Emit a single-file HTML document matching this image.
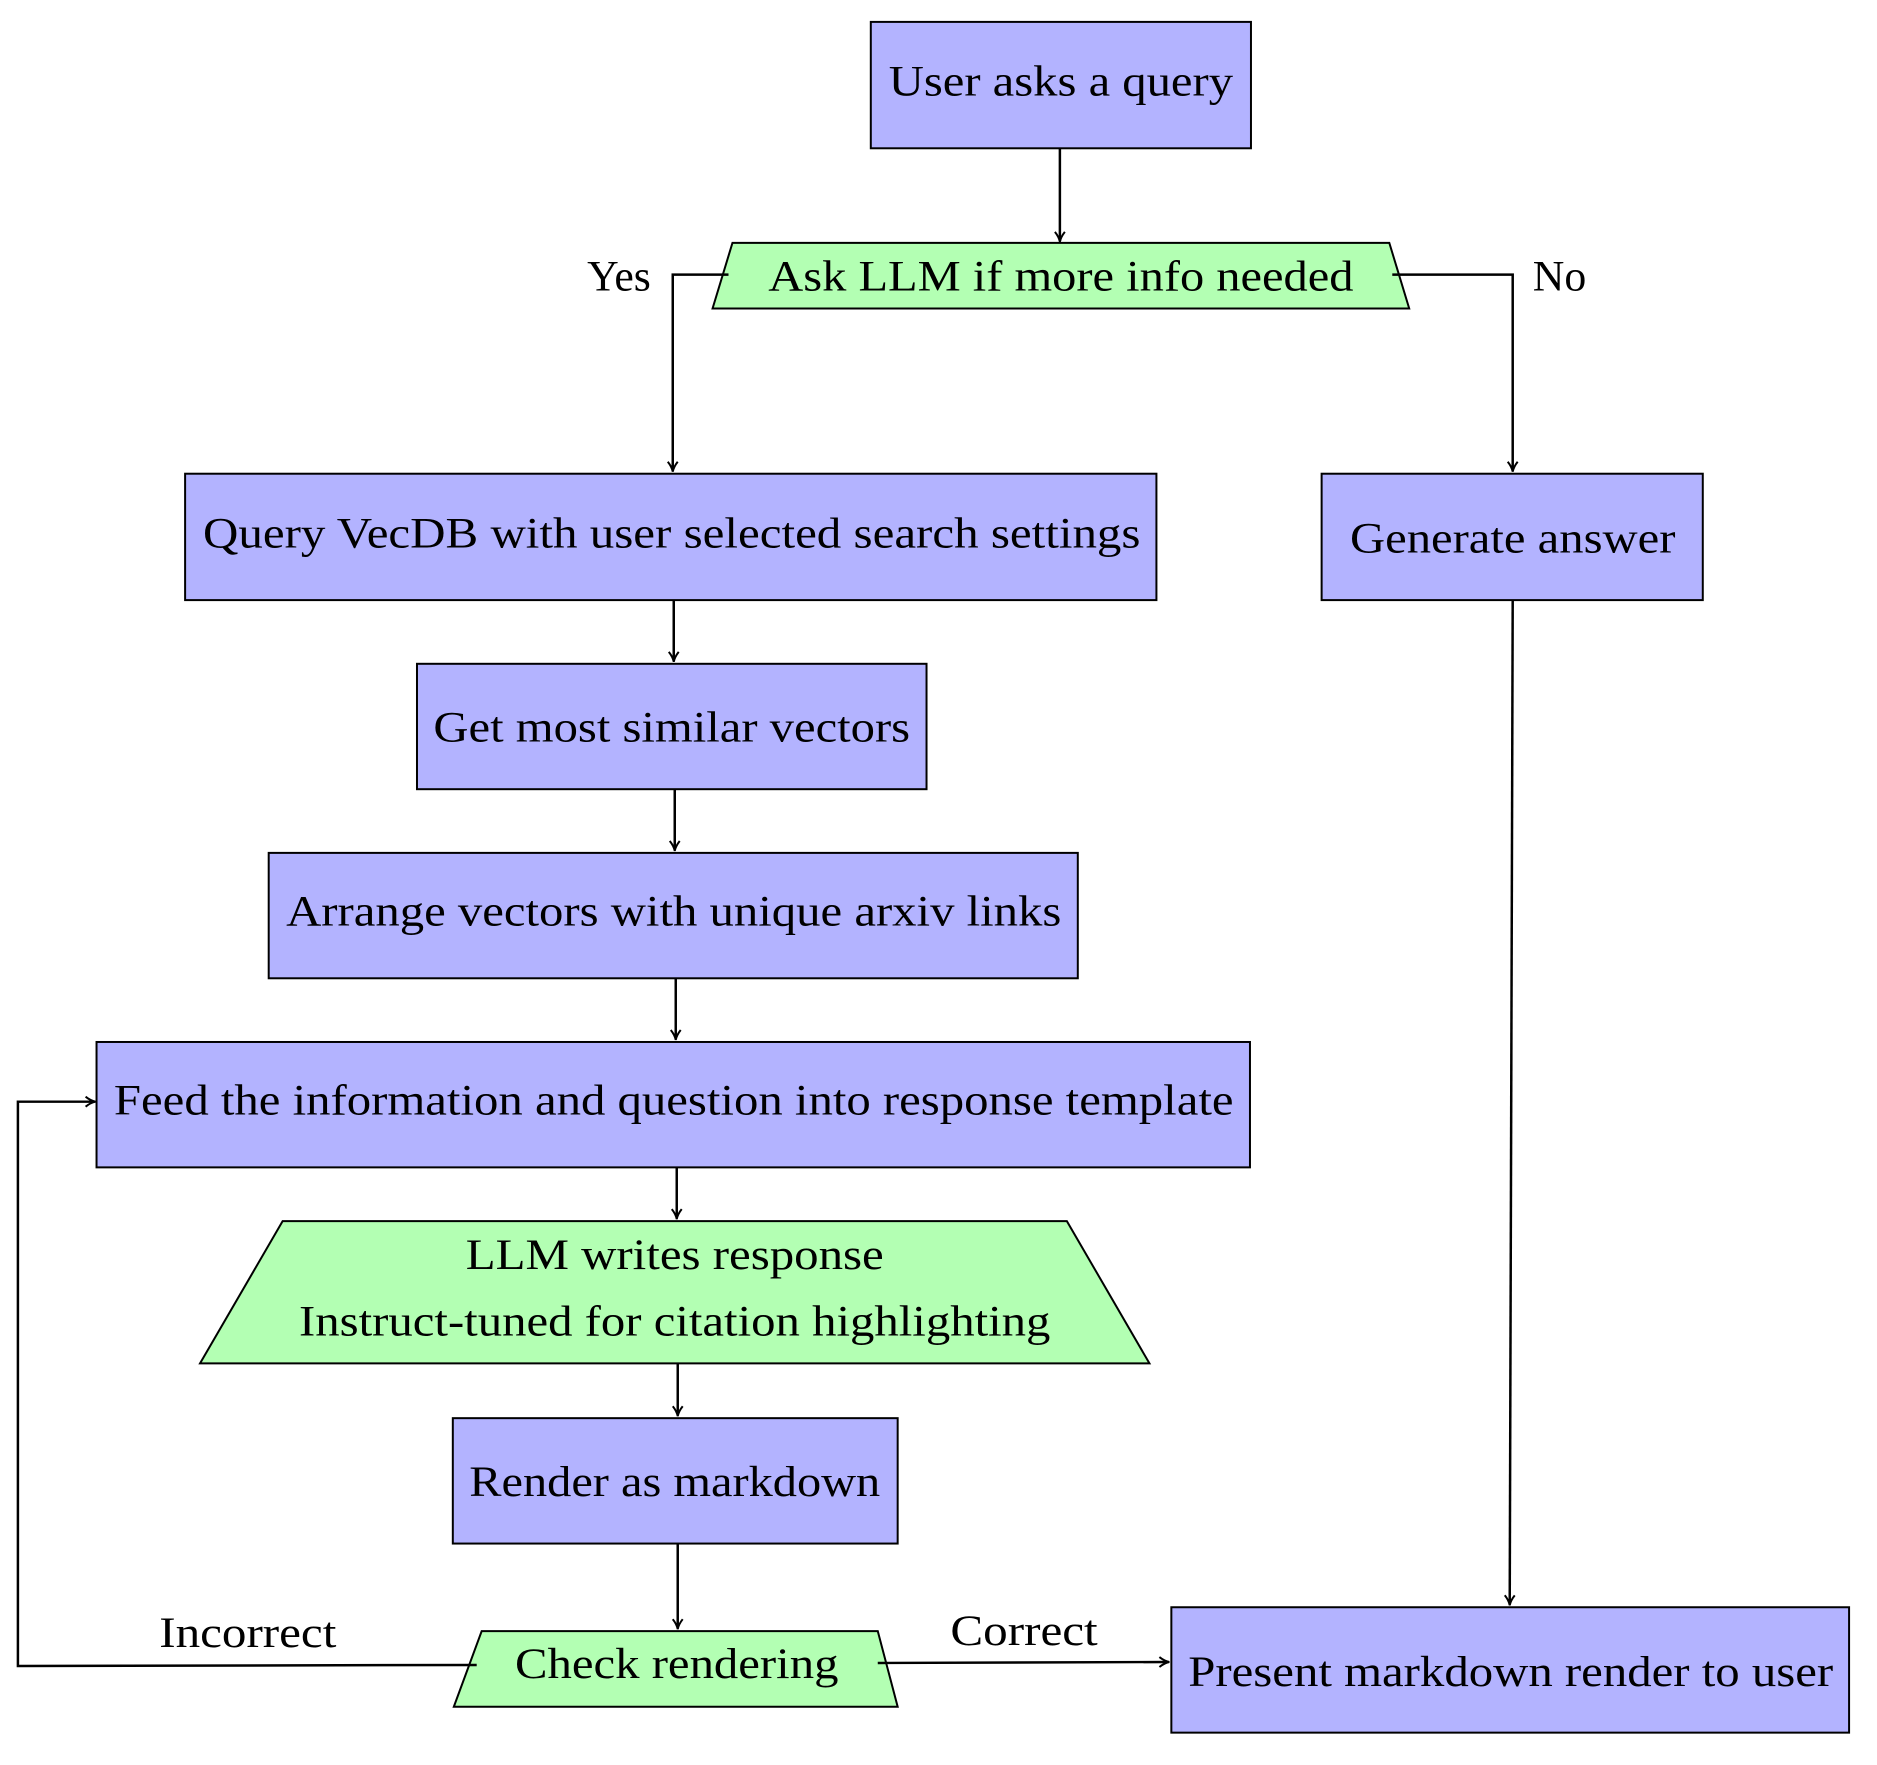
<!DOCTYPE html>
<html><head><meta charset="utf-8"><style>html,body{margin:0;padding:0;background:#fff}svg{display:block}</style></head>
<body>
<svg width="1877" height="1765" viewBox="0 0 1877 1765" xmlns="http://www.w3.org/2000/svg" font-family="Liberation Serif, serif" font-size="44">
<defs><marker id="a" markerWidth="12" markerHeight="12" refX="10" refY="6" orient="auto" markerUnits="userSpaceOnUse"><path d="M1,1 Q6,5 11,6 Q6,7 1,11" fill="none" stroke="#000" stroke-width="2"/></marker></defs>
<g transform="scale(0.9952)">
<g stroke="#000" stroke-width="2">
<rect x="875" y="22" width="382" height="127" fill="#b3b3ff"/>
<polygon points="736,244 1396,244 1416,310 716,310" fill="#b3ffb3"/>
<rect x="186" y="476" width="976" height="127" fill="#b3b3ff"/>
<rect x="1328" y="476" width="383" height="127" fill="#b3b3ff"/>
<rect x="419" y="667" width="512" height="126" fill="#b3b3ff"/>
<rect x="270" y="857" width="813" height="126" fill="#b3b3ff"/>
<rect x="97" y="1047" width="1159" height="126" fill="#b3b3ff"/>
<polygon points="284,1227 1072,1227 1155,1370 201,1370" fill="#b3ffb3"/>
<rect x="455" y="1425" width="447" height="126" fill="#b3b3ff"/>
<polygon points="484,1639 882,1639 902,1715 456,1715" fill="#b3ffb3"/>
<rect x="1177" y="1615" width="681" height="126" fill="#b3b3ff"/>
</g>
<g stroke="#000" stroke-width="2.5" fill="none" marker-end="url(#a)">
<path d="M1065,149 V242"/>
<path d="M732,276 H676 V473"/>
<path d="M1399,276 H1520 V473"/>
<path d="M1520,603 L1517,1612"/>
<path d="M677,603 V664"/>
<path d="M678,793 V854"/>
<path d="M679,983 V1044"/>
<path d="M680,1173 V1224"/>
<path d="M681,1370 V1422"/>
<path d="M681,1551 V1636"/>
<path d="M882,1671 L1174,1670"/>
<path d="M479,1673 L18,1674 V1107 H95"/>
</g>
<g text-anchor="middle" fill="#000">
<text x="1066" y="96" textLength="346" lengthAdjust="spacingAndGlyphs">User asks a query</text>
<text x="1066" y="292" textLength="588" lengthAdjust="spacingAndGlyphs">Ask LLM if more info needed</text>
<text x="675" y="550" textLength="942" lengthAdjust="spacingAndGlyphs">Query VecDB with user selected search settings</text>
<text x="1520" y="555" textLength="327" lengthAdjust="spacingAndGlyphs">Generate answer</text>
<text x="675" y="745" textLength="479" lengthAdjust="spacingAndGlyphs">Get most similar vectors</text>
<text x="677" y="930" textLength="779" lengthAdjust="spacingAndGlyphs">Arrange vectors with unique arxiv links</text>
<text x="677" y="1120" textLength="1125" lengthAdjust="spacingAndGlyphs">Feed the information and question into response template</text>
<text x="678" y="1275" textLength="420" lengthAdjust="spacingAndGlyphs">LLM writes response</text>
<text x="678" y="1342" textLength="755" lengthAdjust="spacingAndGlyphs">Instruct-tuned for citation highlighting</text>
<text x="678" y="1503" textLength="413" lengthAdjust="spacingAndGlyphs">Render as markdown</text>
<text x="680" y="1686" textLength="325" lengthAdjust="spacingAndGlyphs">Check rendering</text>
<text x="1518" y="1694" textLength="648" lengthAdjust="spacingAndGlyphs">Present markdown render to user</text>
<text x="622" y="292">Yes</text>
<text x="1567" y="292">No</text>
<text x="249" y="1655" textLength="178" lengthAdjust="spacingAndGlyphs">Incorrect</text>
<text x="1029" y="1653" textLength="148" lengthAdjust="spacingAndGlyphs">Correct</text>
</g>
</g>
</svg>
</body></html>
